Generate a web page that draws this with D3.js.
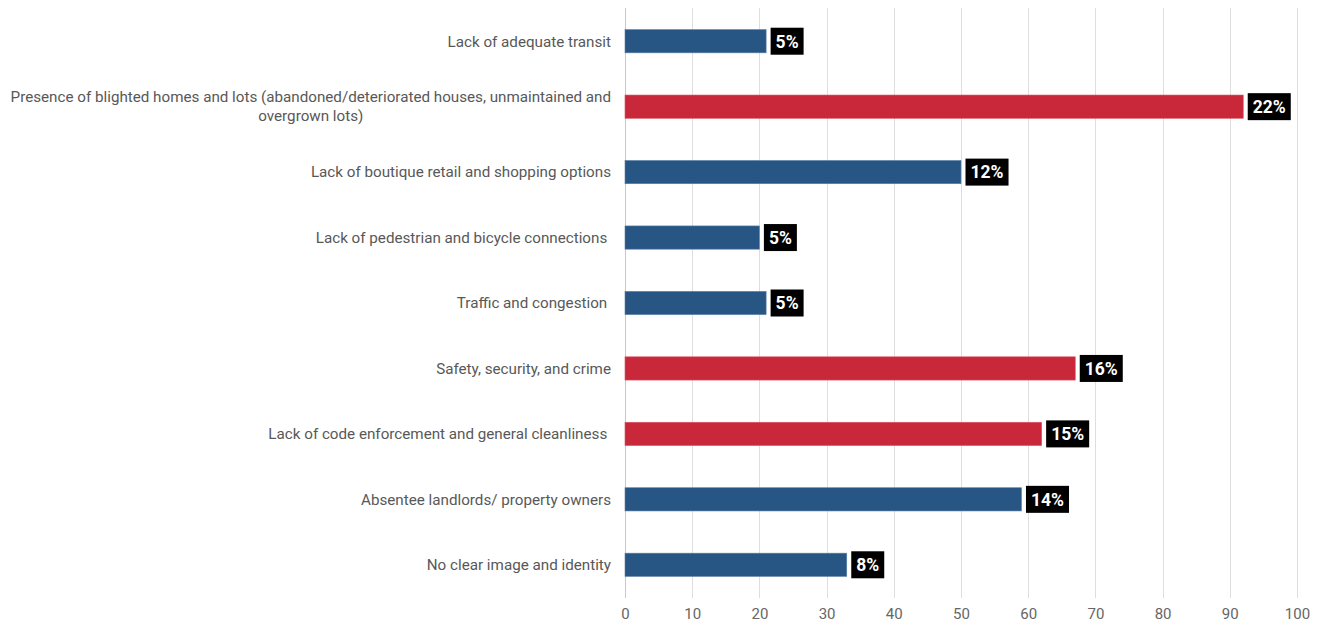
<!DOCTYPE html>
<html>
<head>
<meta charset="utf-8">
<script src="https://cdn.jsdelivr.net/npm/d3@7"></script>
<style>
  html, body { margin: 0; padding: 0; background: #fff; }
  svg { display: block; font-family: Roboto, "Noto Sans", sans-serif; }
</style>
</head>
<body>
<svg id="chart" width="1319" height="625"></svg>
<script>
// Survey responses: biggest neighbourhood weaknesses
const categories = [
  "Lack of adequate transit",
  "Presence of blighted homes and lots (abandoned/deteriorated houses, unmaintained and|overgrown lots)",
  "Lack of boutique retail and shopping options",
  "Lack of pedestrian and bicycle connections ",
  "Traffic and congestion ",
  "Safety, security, and crime",
  "Lack of code enforcement and general cleanliness ",
  "Absentee landlords/ property owners",
  "No clear image and identity"
];
const counts = [21, 92, 50, 20, 21, 67, 62, 59, 33];
const shares = ["5%", "22%", "12%", "5%", "5%", "16%", "15%", "14%", "8%"];
const highlighted = [false, true, false, false, false, true, true, false, false];
const xTicks = [0, 10, 20, 30, 40, 50, 60, 70, 80, 90, 100];

const BLUE = "#285684";
const RED = "#c9283a";

const svg = d3.select("#chart");
const margin = { top: 8, right: 22, bottom: 27, left: 625 };
const W = 1319, H = 625;
const innerW = W - margin.left - margin.right;
const innerH = H - margin.top - margin.bottom;

const x = d3.scaleLinear().domain([0, 100]).range([0, innerW]);
const y = d3.scaleBand().domain(d3.range(categories.length)).range([0, innerH]).paddingInner(0.645).paddingOuter(0.33);

const g = svg.append("g").attr("transform", `translate(${margin.left},${margin.top})`);

// vertical gridlines
g.append("g").selectAll("line").data(xTicks).join("line")
  .attr("x1", d => Math.round(x(d)) + 0.5).attr("x2", d => Math.round(x(d)) + 0.5)
  .attr("y1", 0).attr("y2", innerH)
  .attr("stroke", d => d === 0 ? "#c8c8c8" : "#dedede").attr("stroke-width", 1);

// x axis labels
const xAxis = d3.axisBottom(x).tickValues(xTicks).tickSize(0).tickPadding(10);
const xg = g.append("g").attr("transform", `translate(0,${innerH})`).call(xAxis);
xg.select(".domain").remove();
xg.selectAll("text").attr("font-size", 15).attr("fill", "#666").attr("font-family", "Roboto, sans-serif");

// bars
g.append("g").selectAll("rect").data(counts).join("rect")
  .attr("x", x(0))
  .attr("y", (d, i) => y(i))
  .attr("width", d => x(d) - x(0))
  .attr("height", y.bandwidth())
  .attr("fill", (d, i) => highlighted[i] ? RED : BLUE)
  .attr("stroke", (d, i) => highlighted[i] ? "#d9505e" : "#5a7fa6")
  .attr("stroke-width", 0.6);

// value labels in black boxes
const lab = g.append("g").selectAll("g").data(counts).join("g")
  .attr("transform", (d, i) => `translate(${x(d) + 4.5},${y(i) + y.bandwidth() / 2})`);
lab.each(function (d, i) {
  const sel = d3.select(this);
  const t = sel.append("text")
    .attr("x", 5).attr("y", 0).attr("dy", "0.36em")
    .attr("font-size", 17.5).attr("font-weight", 700).attr("fill", "#fff")
    .text(shares[i]);
  const w = t.node().getComputedTextLength();
  sel.insert("rect", "text")
    .attr("x", 0).attr("y", -13.5).attr("width", w + 10).attr("height", 27)
    .attr("fill", "#000");
});

// category labels
const cg = svg.append("g").attr("font-size", 15.2).attr("fill", "#585858");
categories.forEach((c, i) => {
  const cy = margin.top + y(i) + y.bandwidth() / 2;
  const lines = c.split("|");
  const ex = margin.left - 14;
  if (lines.length === 1) {
    cg.append("text").attr("x", ex).attr("y", cy).attr("dy", "0.35em")
      .attr("text-anchor", "end").style("white-space", "pre").text(lines[0]);
  } else {
    const first = cg.append("text").attr("x", ex).attr("y", cy - 9.5).attr("dy", "0.35em")
      .attr("text-anchor", "end").style("white-space", "pre").text(lines[0]);
    const w = first.node().getComputedTextLength();
    cg.append("text").attr("x", ex - w / 2).attr("y", cy + 9.5).attr("dy", "0.35em")
      .attr("text-anchor", "middle").style("white-space", "pre").text(lines[1]);
  }
});
</script>
</body>
</html>
